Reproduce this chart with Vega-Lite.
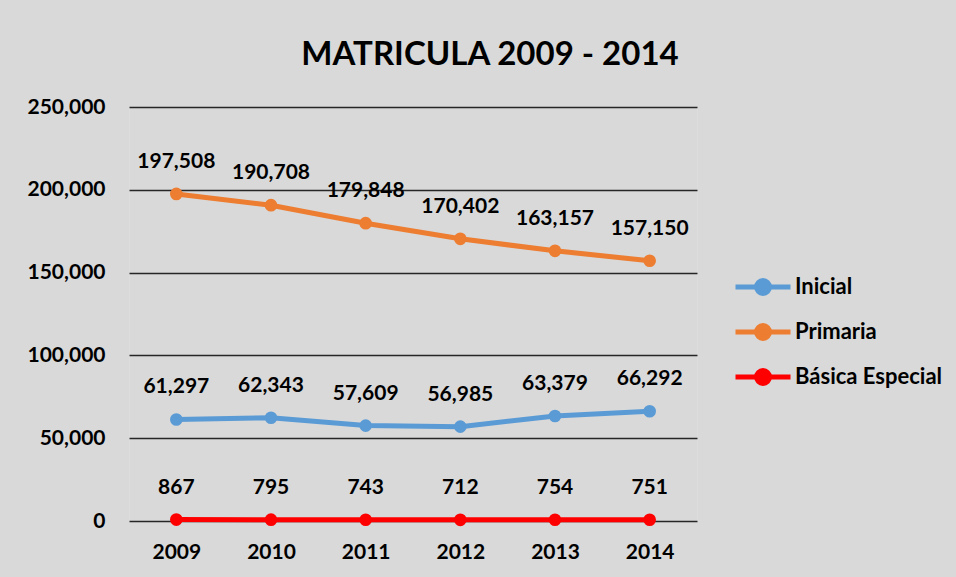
{
  "$schema": "https://vega.github.io/schema/vega-lite/v6.json",
  "autosize": "none",
  "width": 568,
  "height": 414,
  "padding": {"left": 129, "top": 107, "right": 259, "bottom": 56},
  "background": "#d9d9d9",
  "title": {
    "text": "MATRICULA 2009 - 2014",
    "font": "Lato",
    "fontSize": 33,
    "fontWeight": "bold",
    "color": "#000000",
    "anchor": "middle",
    "dx": 77,
    "offset": 24
  },
  "data": {
    "values": [
      {"year": "2009", "serie": "Inicial", "value": 61297},
      {"year": "2010", "serie": "Inicial", "value": 62343},
      {"year": "2011", "serie": "Inicial", "value": 57609},
      {"year": "2012", "serie": "Inicial", "value": 56985},
      {"year": "2013", "serie": "Inicial", "value": 63379},
      {"year": "2014", "serie": "Inicial", "value": 66292},
      {"year": "2009", "serie": "Primaria", "value": 197508},
      {"year": "2010", "serie": "Primaria", "value": 190708},
      {"year": "2011", "serie": "Primaria", "value": 179848},
      {"year": "2012", "serie": "Primaria", "value": 170402},
      {"year": "2013", "serie": "Primaria", "value": 163157},
      {"year": "2014", "serie": "Primaria", "value": 157150},
      {"year": "2009", "serie": "Básica Especial", "value": 867},
      {"year": "2010", "serie": "Básica Especial", "value": 795},
      {"year": "2011", "serie": "Básica Especial", "value": 743},
      {"year": "2012", "serie": "Básica Especial", "value": 712},
      {"year": "2013", "serie": "Básica Especial", "value": 754},
      {"year": "2014", "serie": "Básica Especial", "value": 751}
    ]
  },
  "encoding": {
    "x": {
      "field": "year",
      "type": "ordinal",
      "scale": {"type": "point", "padding": 0.5},
      "axis": {
        "title": null,
        "labelAngle": 0,
        "labelFont": "Lato",
        "labelFontSize": 21,
        "labelFontWeight": "bold",
        "labelColor": "#000000",
        "labelPadding": 20,
        "ticks": false,
        "tickSize": 0,
        "domain": false,
        "grid": false
      }
    },
    "y": {
      "field": "value",
      "type": "quantitative",
      "scale": {"domain": [0, 250000], "nice": false},
      "axis": {
        "title": null,
        "values": [0, 50000, 100000, 150000, 200000, 250000],
        "format": ",.0f",
        "labelFont": "Lato",
        "labelFontSize": 21,
        "labelFontWeight": "bold",
        "labelColor": "#000000",
        "labelPadding": 24,
        "ticks": false,
        "tickSize": 0,
        "domain": false,
        "grid": true,
        "gridColor": "#262626",
        "gridWidth": 1.5,
        "gridOpacity": 1
      }
    },
    "color": {
      "field": "serie",
      "type": "nominal",
      "sort": ["Inicial", "Primaria", "Básica Especial"],
      "scale": {
        "domain": ["Inicial", "Primaria", "Básica Especial"],
        "range": ["#5b9bd5", "#ed7d31", "#ff0000"]
      },
      "legend": {
        "title": null,
        "orient": "none",
        "legendX": 604,
        "legendY": 168,
        "labelFont": "Lato",
        "labelFontSize": 22,
        "labelFontWeight": "bold",
        "labelColor": "#000000",
        "labelOffset": 2,
        "symbolType": "M-1,0L1,0M0.236,0A0.236,0.236,0,1,1,-0.236,0A0.236,0.236,0,1,1,0.236,0Z",
        "symbolSize": 3025,
        "symbolStrokeWidth": 5,
        "clipHeight": 24,
        "rowPadding": 21,
        "encode": {
          "symbols": {
            "update": {
              "fill": {"scale": "color", "field": "value"},
              "stroke": {"scale": "color", "field": "value"},
              "opacity": {"value": 1}
            }
          }
        }
      }
    }
  },
  "layer": [
    {
      "mark": {"type": "line", "strokeWidth": 5, "point": {"size": 160, "filled": true, "opacity": 1}}
    },
    {
      "mark": {
        "type": "text",
        "font": "Lato",
        "fontSize": 21,
        "fontWeight": "bold",
        "color": "#000000",
        "baseline": "middle",
        "dy": -32
      },
      "encoding": {
        "text": {"field": "value", "type": "quantitative", "format": ","},
        "color": {"value": "#000000"}
      }
    }
  ]
}
